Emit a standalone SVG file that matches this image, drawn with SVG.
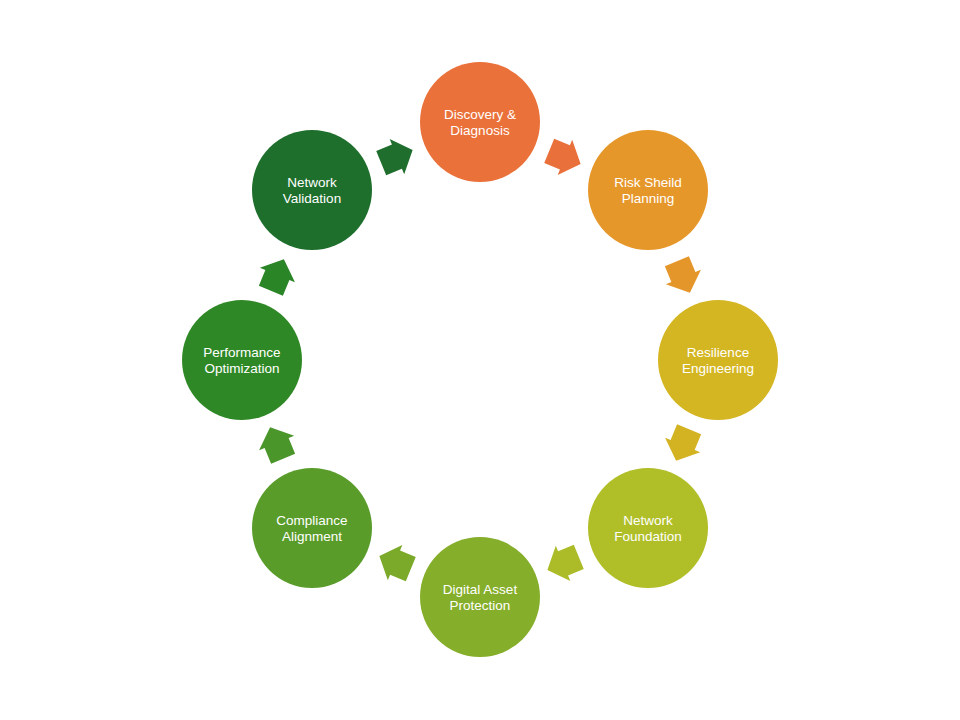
<svg xmlns="http://www.w3.org/2000/svg" width="960" height="720" viewBox="0 0 960 720">
<defs>
<style>
.lbl{font-family:"Liberation Sans",Arial,sans-serif;font-size:13.5px;fill:#ffffff;text-anchor:middle}
</style>
<path id="arr" d="M-16,-13 L1,-13 L1,-19 L18,0 L1,19 L1,13 L-16,13 Z"/>
</defs>
<rect width="960" height="720" fill="#ffffff"/>
<g id="connectors">
<use href="#arr" transform="translate(564,157) rotate(22.5)" fill="#E9703A"/>
<use href="#arr" transform="translate(683,276) rotate(67.5)" fill="#E5962A"/>
<use href="#arr" transform="translate(683,444) rotate(112.5)" fill="#D3B321"/>
<use href="#arr" transform="translate(564,563) rotate(157.5)" fill="#ABBC28"/>
<use href="#arr" transform="translate(396,563) rotate(202.5)" fill="#7BAA2A"/>
<use href="#arr" transform="translate(277,444) rotate(247.5)" fill="#4A962A"/>
<use href="#arr" transform="translate(277,276) rotate(292.5)" fill="#2A8527"/>
<use href="#arr" transform="translate(396,157) rotate(337.5)" fill="#1F6E2D"/>
</g>
<g id="n1"><circle cx="480" cy="122" r="60" fill="#EA713A"/><text class="lbl" x="480" y="119">Discovery &amp;</text><text class="lbl" x="480" y="135">Diagnosis</text></g>
<g id="n2"><circle cx="648" cy="190" r="60" fill="#E6972A"/><text class="lbl" x="648" y="187">Risk Sheild</text><text class="lbl" x="648" y="203">Planning</text></g>
<g id="n3"><circle cx="718" cy="360" r="60" fill="#D4B622"/><text class="lbl" x="718" y="357">Resilience</text><text class="lbl" x="718" y="373">Engineering</text></g>
<g id="n4"><circle cx="648" cy="528" r="60" fill="#B0BE28"/><text class="lbl" x="648" y="525">Network</text><text class="lbl" x="648" y="541">Foundation</text></g>
<g id="n5"><circle cx="480" cy="597" r="60" fill="#85AE2A"/><text class="lbl" x="480" y="594">Digital Asset</text><text class="lbl" x="480" y="610">Protection</text></g>
<g id="n6"><circle cx="312" cy="528" r="60" fill="#5A9C2A"/><text class="lbl" x="312" y="525">Compliance</text><text class="lbl" x="312" y="541">Alignment</text></g>
<g id="n7"><circle cx="242" cy="360" r="60" fill="#2F8826"/><text class="lbl" x="242" y="357">Performance</text><text class="lbl" x="242" y="373">Optimization</text></g>
<g id="n8"><circle cx="312" cy="190" r="60" fill="#1E6E2C"/><text class="lbl" x="312" y="187">Network</text><text class="lbl" x="312" y="203">Validation</text></g>
</svg>
